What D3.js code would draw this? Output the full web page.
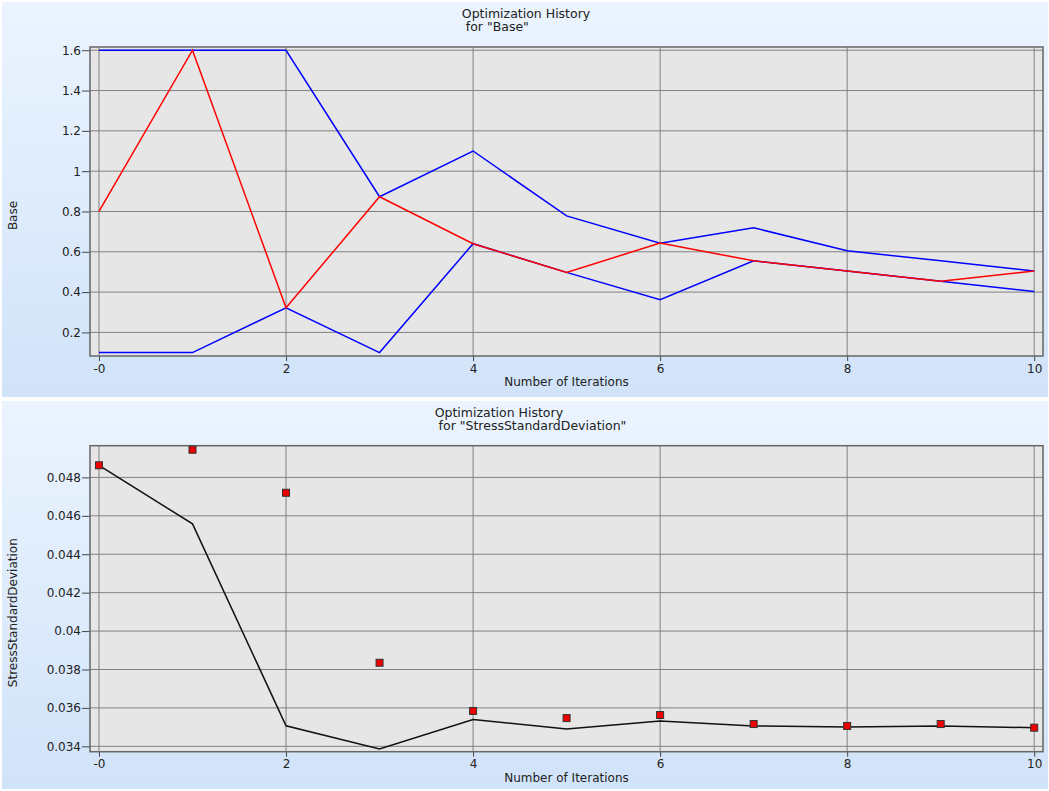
<!DOCTYPE html>
<html>
<head>
<meta charset="utf-8">
<script src="https://cdn.jsdelivr.net/npm/d3@7"></script>
<style>
  html, body { margin: 0; padding: 0; background: #ffffff; }
  svg { display: block; }
  text { font-family: "DejaVu Sans", sans-serif; font-size: 12px; fill: #222; }
  text.title { font-size: 12.5px; }
</style>
</head>
<body>
<svg id="chart" width="1049" height="791"></svg>
<script>
// Iteration index shared by both histories
const iterations = [0, 1, 2, 3, 4, 5, 6, 7, 8, 9, 10];
const xTicks = [0, 2, 4, 6, 8, 10];

// Design variable "Base": upper bound, lower bound and current value
const baseUpper = [1.6, 1.6, 1.6, 0.873, 1.10, 0.778, 0.643, 0.719, 0.605, 0.555, 0.505];
const baseLower = [0.1, 0.1, 0.322, 0.1, 0.64, 0.498, 0.362, 0.555, 0.505, 0.454, 0.403];
const baseValue = [0.8, 1.6, 0.322, 0.873, 0.64, 0.498, 0.643, 0.555, 0.505, 0.454, 0.505];
const baseTicks = [0.2, 0.4, 0.6, 0.8, 1, 1.2, 1.4, 1.6];

// Response "StressStandardDeviation": evaluated points and best-so-far curve
const stressPoints = [0.04863, 0.04944, 0.0472, 0.03835, 0.03584, 0.03547, 0.03563, 0.03516, 0.03506, 0.03516, 0.03497];
const stressBest = [0.04863, 0.04558, 0.03507, 0.03386, 0.0354, 0.0349, 0.03532, 0.03506, 0.035, 0.03506, 0.03497];
const stressTicks = [0.034, 0.036, 0.038, 0.04, 0.042, 0.044, 0.046, 0.048];

const svg = d3.select("#chart");

const defs = svg.append("defs");
const grad = defs.append("linearGradient").attr("id", "panelGrad")
  .attr("x1", 0).attr("y1", 0).attr("x2", 0).attr("y2", 1);
grad.append("stop").attr("offset", "0%").attr("stop-color", "#ebf4fe");
grad.append("stop").attr("offset", "100%").attr("stop-color", "#d1e3f9");

function panel(cfg) {
  const g = svg.append("g");
  g.append("rect")
    .attr("x", 2).attr("y", cfg.top)
    .attr("width", 1046).attr("height", cfg.height)
    .attr("fill", "url(#panelGrad)");

  const x = d3.scaleLinear().domain([-0.096, 10.094]).range([90, 1043]);
  const y = d3.scaleLinear().domain(cfg.yDomain).range([cfg.plotBottom, cfg.plotTop]);

  // plot background
  g.append("rect")
    .attr("x", 90).attr("y", cfg.plotTop)
    .attr("width", 1043 - 90).attr("height", cfg.plotBottom - cfg.plotTop)
    .attr("fill", "#e6e6e6");

  // horizontal grid + y axis ticks
  const yAxis = d3.axisLeft(y).tickValues(cfg.yTicks).tickSize(8).tickPadding(1)
    .tickFormat(d => String(+d.toFixed(4)));
  const ya = g.append("g").attr("transform", "translate(90,0)").call(yAxis);
  ya.select(".domain").remove();
  ya.selectAll(".tick line").attr("stroke", "#444");
  ya.selectAll(".tick text").attr("font-size", null).attr("font-family", null).attr("fill", "#222");
  g.append("g").selectAll("line").data(cfg.yTicks).join("line")
    .attr("x1", 90).attr("x2", 1043)
    .attr("y1", d => y(d)).attr("y2", d => y(d))
    .attr("stroke", "#777").attr("stroke-width", 1).attr("opacity", 0.9);

  // vertical grid + x axis ticks
  const xAxis = d3.axisBottom(x).tickValues(xTicks).tickSize(5).tickPadding(3)
    .tickFormat(d => d === 0 ? "-0" : String(d));
  const xa = g.append("g").attr("transform", `translate(0,${cfg.plotBottom})`).call(xAxis);
  xa.select(".domain").remove();
  xa.selectAll(".tick line").attr("stroke", "#444");
  xa.selectAll(".tick text").attr("font-size", null).attr("font-family", null).attr("fill", "#222");
  g.append("g").selectAll("line").data(xTicks).join("line")
    .attr("x1", d => x(d)).attr("x2", d => x(d))
    .attr("y1", cfg.plotTop).attr("y2", cfg.plotBottom)
    .attr("stroke", "#777").attr("stroke-width", 1).attr("opacity", 0.9);

  // frame
  g.append("rect")
    .attr("x", 90).attr("y", cfg.plotTop)
    .attr("width", 1043 - 90).attr("height", cfg.plotBottom - cfg.plotTop)
    .attr("fill", "none").attr("stroke", "#666").attr("stroke-width", 1.5);

  // title block: left-aligned lines, block centred
  const title = g.append("text").attr("class", "title").attr("y", cfg.top + 16);
  const l1 = title.append("tspan").text("Optimization History");
  const l2 = title.append("tspan").attr("dy", 13).text('\u00a0for "' + cfg.name + '"');
  const w = Math.max(l1.node().getComputedTextLength(), l2.node().getComputedTextLength());
  const x0 = cfg.titleCenter - w / 2;
  l1.attr("x", x0);
  l2.attr("x", x0);

  // axis labels
  g.append("text")
    .attr("x", 566.5).attr("y", cfg.plotBottom + 30)
    .attr("text-anchor", "middle").text("Number of Iterations");
  g.append("text")
    .attr("transform", `translate(17,${(cfg.plotTop + cfg.plotBottom) / 2 + 14}) rotate(-90)`)
    .attr("text-anchor", "middle").text(cfg.name);

  return { g, x, y };
}

// ---- top panel: Base ----
const p1 = panel({
  top: 2, height: 395, plotTop: 47, plotBottom: 356,
  yDomain: [0.083, 1.616], yTicks: baseTicks, name: "Base", titleCenter: 526
});
const line1 = d3.line().x((d, i) => p1.x(iterations[i])).y(d => p1.y(d));
const series1 = p1.g.append("g");
[baseUpper, baseLower].forEach(s => {
  series1.append("path").datum(s).attr("d", line1)
    .attr("fill", "none").attr("stroke", "#0000ff").attr("stroke-width", 1.5);
});
series1.append("path").datum(baseValue).attr("d", line1)
  .attr("fill", "none").attr("stroke", "#ff0000").attr("stroke-width", 1.5);

// ---- bottom panel: StressStandardDeviation ----
const p2 = panel({
  top: 401, height: 388, plotTop: 445.7, plotBottom: 751.7,
  yDomain: [0.03372, 0.04965], yTicks: stressTicks, name: "StressStandardDeviation", titleCenter: 530.5
});
const line2 = d3.line().x((d, i) => p2.x(iterations[i])).y(d => p2.y(d));
p2.g.append("path").datum(stressBest).attr("d", line2)
  .attr("fill", "none").attr("stroke", "#111").attr("stroke-width", 1.5);
p2.g.append("g").selectAll("rect").data(stressPoints).join("rect")
  .attr("x", (d, i) => p2.x(iterations[i]) - 3.5)
  .attr("y", d => p2.y(d) - 3.5)
  .attr("width", 7).attr("height", 7)
  .attr("fill", "#ee0000").attr("stroke", "#333").attr("stroke-width", 1);
</script>
</body>
</html>
